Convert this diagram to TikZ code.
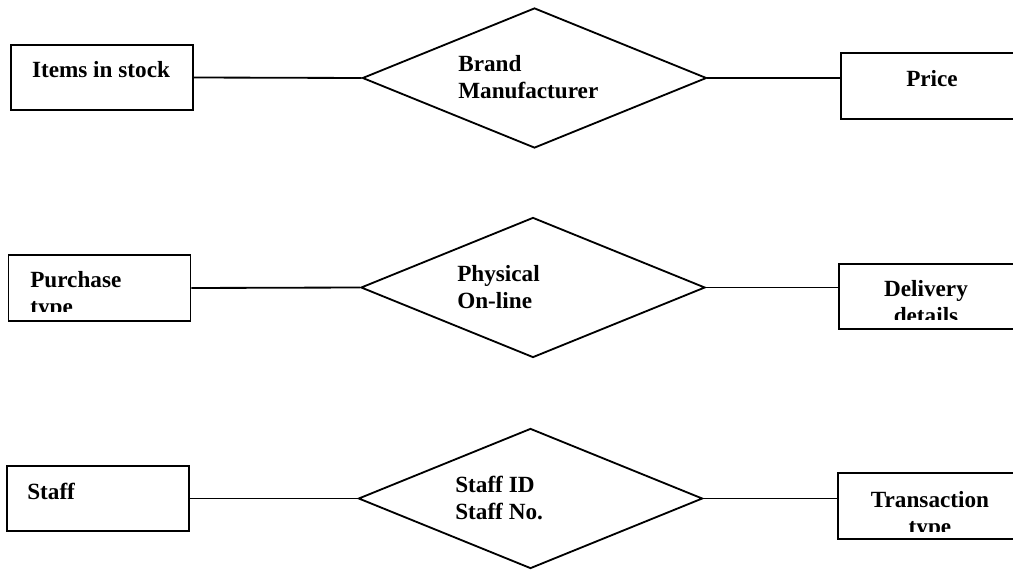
\documentclass[tikz,border=0pt]{standalone}
\usepackage{fontspec}
\setmainfont{Liberation Serif}
\usetikzlibrary{calc}
\usetikzlibrary{shapes.geometric}

\tikzset{
  entity/.style={draw, line width=1.3pt, inner sep=0pt, minimum width=4.55cm, minimum height=1.64cm},
  relation/.style={draw, diamond, line width=1.3pt, inner sep=0pt, minimum width=8.6cm, minimum height=3.5cm},
  label/.style={inner sep=0pt, font=\bfseries\fontsize{16.5}{19.2}\selectfont},
  rlabel/.style={inner sep=0pt, align=left, font=\bfseries\fontsize{16.5}{19}\selectfont},
  link/.style={line width=1.3pt}
}

\begin{document}
\begin{tikzpicture}[x=0.025cm, y=-0.025cm]
\clip (0,0) rectangle (1013,570);
\fill[white] (0,0) rectangle (1013,570);

\node[entity] (stock) at (102,77.5) {};
\node[relation] (brand) at (534.5,78) {};
\node[entity] (price) at (932,86) {};

\node[entity] (purchase) at (99.5,288) {};
\node[relation] (physical) at (533,287.5) {};
\node[entity] (delivery) at (930,296.5) {};

\node[entity] (staff) at (98,498.5) {};
\node[relation] (staffid) at (530.5,498.5) {};
\node[entity] (transaction) at (929,506) {};

\draw[link] (stock.east) -- (brand.west);
\draw[link] (brand.east) -- (brand.east -| price.west);
\draw[link] (purchase.east) -- (physical.west);
\draw[link] (physical.east) -- (physical.east -| delivery.west);
\draw[link] (staff.east) -- (staffid.west);
\draw[link] (staffid.east) -- (staffid.east -| transaction.west);

\node[label, anchor=base] (stocktxt) at (101,78) {Items in stock};
\node[label, anchor=base] (pricetxt) at (932,87) {Price};
\node[label, anchor=base west] (stafftxt) at (27,499) {Staff};

\node[rlabel, anchor=north west] (brandtxt) at (458,55) {Brand\\Manufacturer};
\node[rlabel, anchor=north west] (physicaltxt) at (457,265) {Physical\\On-line};
\node[rlabel, anchor=north west] (staffidtxt) at (455,476) {Staff ID\\Staff No.};

% second lines cut off by the boxes
\begin{scope}
\clip (purchase.north west) rectangle ($(purchase.south east)+(0,-10)$);
\node[label, align=left, anchor=north west] (purchasetxt) at (30,271) {Purchase\\type};
\end{scope}
\begin{scope}
\clip (delivery.north west) rectangle ($(delivery.south east)+(0,-11)$);
\node[label, align=center, anchor=north] (deliverytxt) at (926,280) {Delivery\\details};
\end{scope}
\begin{scope}
\clip (transaction.north west) rectangle ($(transaction.south east)+(0,-8)$);
\node[label, align=center, anchor=north] (transactiontxt) at (930,491) {Transaction\\type};
\end{scope}
\end{tikzpicture}
\end{document}
